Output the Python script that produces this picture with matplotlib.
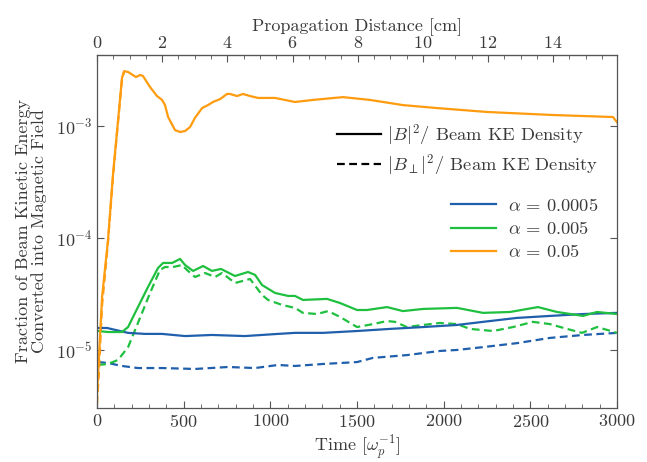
import matplotlib
matplotlib.use("Agg")
import matplotlib.pyplot as plt
from matplotlib.lines import Line2D
from matplotlib.ticker import MultipleLocator, LogLocator, NullLocator

plt.rcParams['font.family'] = 'serif'
plt.rcParams['font.serif'] = ['cmr10', 'DejaVu Serif']
plt.rcParams['mathtext.fontset'] = 'cm'
plt.rcParams['axes.formatter.use_mathtext'] = True
plt.rcParams['axes.unicode_minus'] = False

# ---- data ----
t_orange = [0, 29, 63, 92, 144, 156, 179, 225, 248, 265, 306, 346, 375, 392, 410, 450, 479,
            508, 537, 565, 606, 640, 669, 710, 750, 767, 808, 842, 883, 929, 1027, 1142,
            1246, 1419, 1575, 1765, 1962, 2250, 2631, 2977, 3000]
b_orange = [4.0e-6, 2.96e-5, 9.5e-5, 3.64e-4, 2.65e-3, 3.05e-3, 3.0e-3, 2.70e-3, 2.82e-3,
            2.76e-3, 2.20e-3, 1.83e-3, 1.69e-3, 1.52e-3, 1.19e-3, 9.1e-4, 8.75e-4, 8.93e-4,
            9.7e-4, 1.17e-3, 1.43e-3, 1.52e-3, 1.62e-3, 1.72e-3, 1.91e-3, 1.91e-3, 1.83e-3,
            1.91e-3, 1.83e-3, 1.76e-3, 1.76e-3, 1.62e-3, 1.69e-3, 1.79e-3, 1.69e-3, 1.52e-3,
            1.43e-3, 1.32e-3, 1.24e-3, 1.19e-3, 1.07e-3]
t_orange_perp = [0, 10, 29, 63, 92, 144, 156]
bperp_orange = [3.3e-6, 6.0e-6, 2.5e-5, 9.0e-5, 3.5e-4, 2.6e-3, 3.0e-3]

t_green = [6, 63, 144, 179, 236, 294, 352, 381, 433, 479, 508, 554, 612, 663, 715, 796, 871,
           912, 952, 1027, 1102, 1142, 1188, 1327, 1402, 1500, 1558, 1673, 1765, 1881, 2077,
           2227, 2383, 2544, 2654, 2804, 2885, 3000]
b_green = [1.475e-5, 1.445e-5, 1.445e-5, 1.60e-5, 2.41e-5, 3.64e-5, 5.38e-5, 5.96e-5, 5.96e-5,
           6.47e-5, 5.71e-5, 5.06e-5, 5.60e-5, 5.06e-5, 5.27e-5, 4.56e-5, 4.95e-5, 4.66e-5,
           3.79e-5, 3.22e-5, 3.03e-5, 3.03e-5, 2.79e-5, 2.85e-5, 2.62e-5, 2.27e-5, 2.27e-5,
           2.41e-5, 2.22e-5, 2.32e-5, 2.37e-5, 2.14e-5, 2.18e-5, 2.41e-5, 2.18e-5, 2.01e-5,
           2.18e-5, 2.09e-5]
t_green_perp = [6, 63, 121, 179, 236, 306, 363, 392, 438, 490, 519, 565, 623, 681, 721, 796,
                883, 952, 987, 1067, 1142, 1188, 1269, 1333, 1402, 1500, 1592, 1673, 1719, 1788,
                1881, 1979, 2077, 2152, 2285, 2400, 2515, 2613, 2712, 2798, 2885, 2942, 3000]
bperp_green = [7.35e-6, 7.5e-6, 8.14e-6, 1.06e-5, 1.74e-5, 3.22e-5, 5.16e-5, 5.48e-5, 5.48e-5,
               5.71e-5, 5.16e-5, 4.47e-5, 4.85e-5, 4.47e-5, 4.85e-5, 3.95e-5, 4.29e-5, 3.09e-5,
               2.79e-5, 2.52e-5, 2.37e-5, 2.14e-5, 2.09e-5, 2.22e-5, 1.97e-5, 1.60e-5, 1.70e-5,
               1.81e-5, 1.78e-5, 1.60e-5, 1.67e-5, 1.74e-5, 1.70e-5, 1.54e-5, 1.475e-5, 1.60e-5,
               1.78e-5, 1.70e-5, 1.54e-5, 1.42e-5, 1.60e-5, 1.51e-5, 1.42e-5]

t_blue = [6, 58, 104, 179, 277, 375, 508, 663, 854, 1044, 1142, 1304, 1500, 1690, 1881, 2077,
          2227, 2423, 2613, 2804, 3000]
b_blue = [1.57e-5, 1.57e-5, 1.51e-5, 1.42e-5, 1.39e-5, 1.39e-5, 1.33e-5, 1.36e-5, 1.33e-5,
          1.39e-5, 1.42e-5, 1.42e-5, 1.475e-5, 1.54e-5, 1.60e-5, 1.67e-5, 1.78e-5, 1.93e-5,
          2.01e-5, 2.09e-5, 2.14e-5]
t_blue_perp = [6, 63, 144, 236, 375, 565, 756, 912, 1044, 1142, 1304, 1500, 1592, 1788, 1979,
               2077, 2227, 2423, 2613, 2804, 3000]
bperp_blue = [7.8e-6, 7.65e-6, 7.2e-6, 6.9e-6, 6.9e-6, 6.77e-6, 7.05e-6, 6.9e-6, 7.35e-6,
              7.2e-6, 7.5e-6, 7.8e-6, 8.5e-6, 9.0e-6, 9.8e-6, 1.0e-5, 1.06e-5, 1.15e-5,
              1.28e-5, 1.36e-5, 1.42e-5]

alpha_labels = [r'$\alpha\,=\,0.0005$', r'$\alpha\,=\,0.005$', r'$\alpha\,=\,0.05$']
colors = ['#1f5fac', '#1fc03f', '#ff9b0f']
cm_per_time = 0.00532

# ---- figure ----
fig = plt.figure(figsize=(6.47, 4.62), dpi=100)
ax = fig.add_axes([0.150, 0.1169, 0.8036, 0.7641])

lw = 1.6
ax.plot(t_blue_perp, bperp_blue, color=colors[0], lw=lw, ls=(0, (3.5, 2)))
ax.plot(t_green_perp, bperp_green, color=colors[1], lw=lw, ls=(0, (3.5, 2)))
ax.plot(t_orange_perp, bperp_orange, color=colors[2], lw=lw, ls=(0, (3.5, 2)))
ax.plot(t_blue, b_blue, color=colors[0], lw=lw)
ax.plot(t_green, b_green, color=colors[1], lw=lw)
ax.plot(t_orange, b_orange, color=colors[2], lw=lw)

ax.set_yscale('log')
ax.set_xlim(0, 3000)
ax.set_ylim(3.04e-6, 4.25e-3)
ax.yaxis.set_major_locator(LogLocator(base=10, numticks=10))
ax.yaxis.set_minor_locator(NullLocator())
ax.xaxis.set_major_locator(MultipleLocator(500))
ax.xaxis.set_minor_locator(MultipleLocator(100))

text_color = '#3a3a3a'
spine_color = '#555555'
for s in ax.spines.values():
    s.set_color(spine_color)
    s.set_linewidth(0.9)
ax.tick_params(which='both', direction='in', colors=spine_color, labelcolor=text_color,
               labelsize=13, right=True, top=False)
ax.tick_params(which='major', length=5)
ax.tick_params(which='minor', length=3)

ax.set_xlabel(r'Time [$\omega_p^{-1}$]', fontsize=13, color=text_color, labelpad=2.5)
ax.set_ylabel('Fraction of Beam Kinetic Energy\nConverted into Magnetic Field',
              fontsize=13, color=text_color, labelpad=6, linespacing=1.0)

sec = ax.secondary_xaxis('top', functions=(lambda x: x * cm_per_time,
                                            lambda x: x / cm_per_time))
sec.xaxis.set_major_locator(MultipleLocator(2))
sec.xaxis.set_minor_locator(MultipleLocator(0.5))
sec.tick_params(which='both', direction='in', colors=spine_color, labelcolor=text_color,
                labelsize=13, pad=3)
sec.tick_params(which='major', length=5)
sec.tick_params(which='minor', length=3)
sec.spines['top'].set_color(spine_color)
sec.set_xlabel('Propagation Distance [cm]', fontsize=13, color=text_color, labelpad=3)

style_handles = [Line2D([], [], color='black', lw=1.6),
                 Line2D([], [], color='black', lw=1.6, ls=(0, (3.5, 2)))]
leg1 = ax.legend(style_handles, [r'$|B|^2$/ Beam KE Density', r'$|B_\perp|^2$/ Beam KE Density'],
                 loc='upper right', bbox_to_anchor=(0.997, 0.855), frameon=False,
                 fontsize=13.3, handlelength=2.4, handletextpad=0.35, labelspacing=0.25,
                 labelcolor=text_color)
ax.add_artist(leg1)
color_handles = [Line2D([], [], color=c, lw=1.6) for c in colors]
ax.legend(color_handles, alpha_labels, loc='upper right', bbox_to_anchor=(0.997, 0.645),
          frameon=False, fontsize=13.3, handlelength=2.4, handletextpad=0.7,
          labelspacing=0.33, labelcolor=text_color)

fig.savefig('out.png', dpi=100)
